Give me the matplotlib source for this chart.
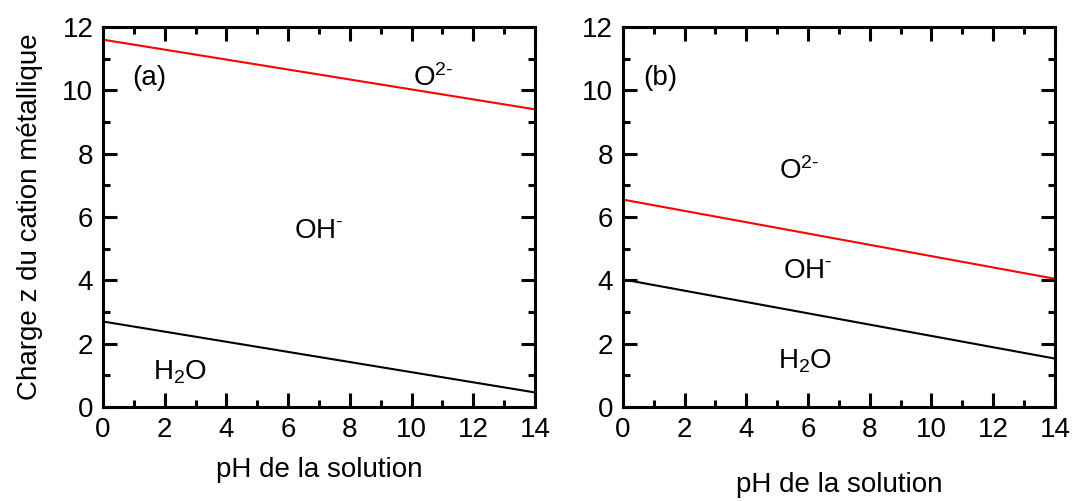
import matplotlib.pyplot as plt
from matplotlib.ticker import MultipleLocator

plt.rcParams['font.family'] = ['Liberation Sans', 'DejaVu Sans']
plt.rcParams['mathtext.fontset'] = 'custom'
plt.rcParams['mathtext.rm'] = 'Liberation Sans'
plt.rcParams['mathtext.it'] = 'Liberation Sans'

# boundary lines: z at pH 0 and pH 14
ph = [0, 14]
a_oh_o = [11.6, 9.4]
a_h2o_oh = [2.7, 0.46]
b_oh_o = [6.55, 4.05]
b_h2o_oh = [4.03, 1.53]

fig = plt.figure(figsize=(10.74, 5.01), dpi=100)
ax1 = fig.add_axes([0.0959, 0.1876, 0.4022, 0.7585])
ax2 = fig.add_axes([0.580, 0.1876, 0.4022, 0.7585])

for ax in (ax1, ax2):
    ax.set_xlim(0, 14)
    ax.set_ylim(0, 12)
    ax.xaxis.set_major_locator(MultipleLocator(2))
    ax.xaxis.set_minor_locator(MultipleLocator(1))
    ax.yaxis.set_major_locator(MultipleLocator(2))
    ax.yaxis.set_minor_locator(MultipleLocator(1))
    ax.tick_params(which='both', direction='in', top=True, right=True,
                   width=2.2, labelsize=20, pad=7)
    ax.tick_params(which='major', length=10)
    ax.tick_params(which='minor', length=5)
    for s in ax.spines.values():
        s.set_linewidth(2.2)

ax1.plot(ph, a_oh_o, color='red', lw=1.5)
ax1.plot(ph, a_h2o_oh, color='black', lw=1.5)
ax2.plot(ph, b_oh_o, color='red', lw=1.5)
ax2.plot(ph, b_h2o_oh, color='black', lw=1.5)

fs = 20
ax1.text(1.5, 10.4, '(a)', fontsize=fs, ha='center', va='center')
ax1.text(10.7, 10.4, r'O$^{2\text{-}}$', fontsize=fs, ha='center', va='center')
ax1.text(7.0, 5.55, r'OH$^{\text{-}}$', fontsize=fs, ha='center', va='center')
ax1.text(2.5, 1.1, r'H$_2$O', fontsize=fs, ha='center', va='center')

ax2.text(1.2, 10.4, '(b)', fontsize=fs, ha='center', va='center')
ax2.text(5.7, 7.45, r'O$^{2\text{-}}$', fontsize=fs, ha='center', va='center')
ax2.text(6.0, 4.3, r'OH$^{\text{-}}$', fontsize=fs, ha='center', va='center')
ax2.text(5.9, 1.45, r'H$_2$O', fontsize=fs, ha='center', va='center')

ax1.set_xlabel('pH de la solution', fontsize=20, labelpad=10)
ax2.set_xlabel('pH de la solution', fontsize=20, labelpad=21)
ax1.set_ylabel('Charge z du cation métallique', fontsize=20, labelpad=14)

fig.savefig('out.png', dpi=100)
